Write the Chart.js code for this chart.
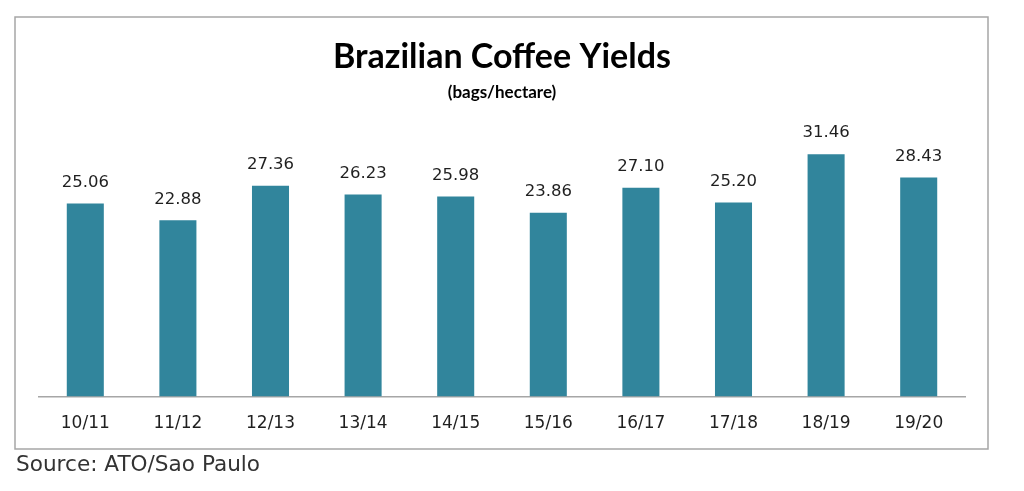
<!DOCTYPE html>
<html>
<head>
<meta charset="utf-8">
<script src="https://cdn.jsdelivr.net/npm/chart.js@4"></script>
<style>
  html, body { margin: 0; padding: 0; background: #ffffff; }
  #wrap { width: 1024px; height: 491px; position: relative; }
</style>
</head>
<body>
<div id="wrap"><canvas id="c" width="1024" height="491"></canvas></div>
<script>
const categories = ["10/11", "11/12", "12/13", "13/14", "14/15", "15/16", "16/17", "17/18", "18/19", "19/20"];
const yields = [25.06, 22.88, 27.36, 26.23, 25.98, 23.86, 27.10, 25.20, 31.46, 28.43];
const titleText = "Brazilian Coffee Yields";
const subtitleText = "(bags/hectare)";
const sourceText = "Source: ATO/Sao Paulo";

const decorPlugin = {
  id: 'decor',
  beforeDraw(chart) {
    const ctx = chart.ctx;
    ctx.save();
    ctx.fillStyle = '#ffffff';
    ctx.fillRect(0, 0, chart.width, chart.height);
    ctx.strokeStyle = '#a6a6a6';
    ctx.lineWidth = 1.5;
    ctx.strokeRect(15, 17, 973, 432);
    ctx.restore();
  },
  afterDraw(chart) {
    const ctx = chart.ctx;
    ctx.save();
    const meta = chart.getDatasetMeta(0);
    ctx.font = '16.5px "DejaVu Sans", sans-serif';
    ctx.fillStyle = '#1f1f1f';
    ctx.textAlign = 'center';
    ctx.textBaseline = 'middle';
    meta.data.forEach((bar, i) => {
      ctx.fillText(yields[i].toFixed(2), bar.x, bar.y - 21);
    });
    ctx.textAlign = 'left';
    ctx.textBaseline = 'alphabetic';
    ctx.font = '21.6px "DejaVu Sans", sans-serif';
    ctx.fillStyle = '#333333';
    ctx.fillText(sourceText, 16, 471);
    ctx.restore();
  }
};

new Chart(document.getElementById('c'), {
  type: 'bar',
  data: {
    labels: categories,
    datasets: [{
      data: yields,
      backgroundColor: '#31859c',
      borderWidth: 0,
      barPercentage: 0.4,
      categoryPercentage: 1.0
    }]
  },
  options: {
    responsive: false,
    animation: false,
    devicePixelRatio: 1,
    layout: { padding: { left: 39, right: 59, top: 0, bottom: 40 } },
    plugins: {
      legend: { display: false },
      tooltip: { enabled: false },
      title: {
        display: true,
        text: titleText,
        color: '#000000',
        font: { family: 'Lato, "Open Sans", sans-serif', size: 34, weight: 'bold' },
        padding: { top: 37, bottom: 5 }
      },
      subtitle: {
        display: true,
        text: subtitleText,
        color: '#000000',
        font: { family: 'Lato, "Open Sans", sans-serif', size: 17, weight: 'bold' },
        padding: { top: 0, bottom: 16 }
      }
    },
    scales: {
      x: {
        grid: { display: false, drawTicks: false, tickLength: 0 },
        border: { display: true, color: '#a6a6a6', width: 1.5 },
        ticks: {
          color: '#1f1f1f',
          padding: 17,
          font: { family: '"DejaVu Sans", sans-serif', size: 17 }
        }
      },
      y: {
        display: false,
        min: 0,
        max: 36
      }
    }
  },
  plugins: [decorPlugin]
});
</script>
</body>
</html>
